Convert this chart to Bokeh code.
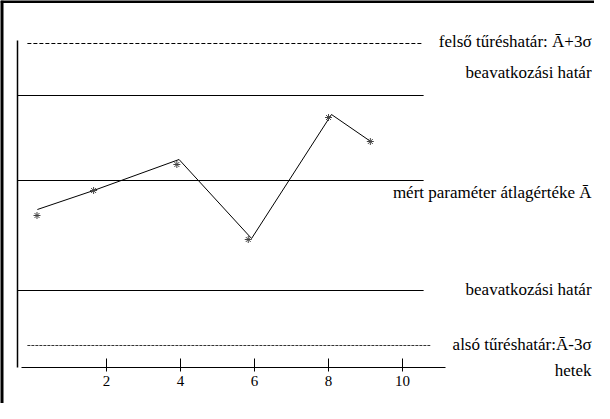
from bokeh.plotting import figure
from bokeh.models import Range1d, LinearAxis, FixedTicker, Label, Span
from bokeh.embed import file_html
from bokeh.resources import INLINE

# ---- data (schematic control chart, arbitrary units) ----
weeks = [0.13, 1.65, 3.96, 5.92, 8.08, 9.14]          # line vertices (hetek)
values = [158, 177, 208, 129, 253, 226]               # measured parameter
star_weeks = [0.12, 1.65, 3.9, 5.83, 8.0, 9.13]       # asterisk markers
star_values = [152, 177, 203, 128, 250, 226]

upper_tol = 324      # felső tűréshatár  Ā+3σ
upper_int = 272      # beavatkozási határ (upper)
mean_val = 187       # átlagérték Ā
lower_int = 77       # beavatkozási határ (lower)
lower_tol = 22       # alsó tűréshatár  Ā-3σ

x_ticks = [2, 4, 6, 8, 10]

# ---- layout constants ----
x_start, x_end = -0.8665, 15.189
y_start, y_end = -36, 367
x_axis_bounds = (-0.3, 11.16)
y_axis_at = -0.407
y_axis_bounds = (0, 327)
solid_start = -0.407
solid_end = 10.57
dash_start = -0.14
upper_dash_end = 10.51
lower_dash_end = 10.75
label_x = 15.11

FONT = "Liberation Serif"

p = figure(width=594, height=403, output_backend="svg", toolbar_location=None,
           x_range=Range1d(x_start, x_end), y_range=Range1d(y_start, y_end),
           x_axis_type=None, y_axis_type=None,
           min_border_left=0, min_border_right=0,
           min_border_top=0, min_border_bottom=0)
p.grid.visible = False
p.outline_line_color = None
p.background_fill_color = "white"
p.border_fill_color = "white"

# page frame (left and top edges)
p.add_layout(Span(location=x_start, dimension="height", line_color="black", line_width=6))
p.add_layout(Span(location=y_end, dimension="width", line_color="black", line_width=5))

# axes
xa = LinearAxis(ticker=FixedTicker(ticks=x_ticks), bounds=x_axis_bounds,
                fixed_location=0)
xa.axis_line_color = "black"
xa.axis_line_width = 1
xa.major_tick_in = 9
xa.major_tick_out = 4
xa.major_tick_line_color = "black"
xa.minor_tick_line_color = None
xa.major_label_text_font = FONT
xa.major_label_text_font_size = "15px"
xa.major_label_text_color = "black"
xa.major_label_standoff = 4
p.add_layout(xa, "below")

ya = LinearAxis(ticker=FixedTicker(ticks=[]), bounds=y_axis_bounds,
                fixed_location=y_axis_at)
ya.axis_line_color = "black"
ya.axis_line_width = 1.5
ya.major_tick_line_color = None
ya.minor_tick_line_color = None
ya.major_tick_in = 0
ya.major_tick_out = 0
ya.minor_tick_out = 0
ya.major_label_text_font_size = "0px"
ya.major_label_standoff = 0
p.add_layout(ya, "left")

# horizontal reference lines
p.segment(x0=[solid_start] * 3, x1=[solid_end] * 3,
          y0=[upper_int, mean_val, lower_int], y1=[upper_int, mean_val, lower_int],
          line_color="black", line_width=1)
p.segment(x0=[dash_start], x1=[upper_dash_end], y0=[upper_tol], y1=[upper_tol],
          line_color="black", line_width=1, line_dash="4 2")
p.segment(x0=[dash_start], x1=[lower_dash_end], y0=[lower_tol], y1=[lower_tol],
          line_color="#333333", line_width=1, line_dash="3 1")

# data
p.line(weeks, values, line_color="black", line_width=1)
p.scatter(star_weeks, star_values, marker="asterisk", size=7,
          line_color="#444444", line_width=1)

# right-hand labels
labels = [
    ("felső tűréshatár: Ā+3σ", upper_tol, 2),
    ("beavatkozási határ", upper_int, 23),
    ("mért paraméter átlagértéke Ā", mean_val, -12),
    ("beavatkozási határ", lower_int, 1),
    ("alsó tűréshatár:Ā-3σ", lower_tol, 1),
    ("hetek", 0, -3),
]
for txt, yv, off in labels:
    p.add_layout(Label(x=label_x, y=yv, y_offset=off, text=txt,
                       text_align="right", text_baseline="middle",
                       text_font=FONT, text_font_size="17px", text_color="black"))

open("out.html", "w").write(file_html(p, INLINE))
